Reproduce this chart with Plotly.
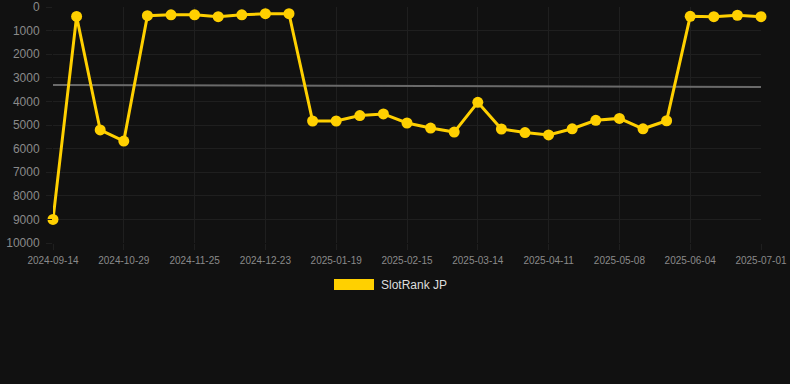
import plotly.graph_objects as go

dates = ["2024-09-14", "2024-09-29", "2024-10-14", "2024-10-29", "2024-11-07", "2024-11-16",
         "2024-11-25", "2024-12-04", "2024-12-14", "2024-12-23", "2025-01-01", "2025-01-10",
         "2025-01-19", "2025-01-28", "2025-02-06", "2025-02-15", "2025-02-24", "2025-03-05",
         "2025-03-14", "2025-03-23", "2025-04-02", "2025-04-11", "2025-04-20", "2025-04-29",
         "2025-05-08", "2025-05-17", "2025-05-26", "2025-06-04", "2025-06-13", "2025-06-22",
         "2025-07-01"]
rank_jp = [9000, 400, 5210, 5680, 370, 330, 330, 410, 330, 285, 285, 4830, 4830, 4600, 4530,
           4915, 5130, 5300, 4040, 5170, 5320, 5420, 5160, 4800, 4720, 5160, 4820, 395, 410,
           350, 410]
trend_start = 3305
trend_end = 3390
tick_labels = dates[::3]
y_ticks = [0, 1000, 2000, 3000, 4000, 5000, 6000, 7000, 8000, 9000, 10000]

BG = "#111111"
GOLD = "#FFD000"
GRID = "#1f1f1f"

fig = go.Figure()
fig.add_trace(go.Scatter(
    x=[dates[0], dates[-1]], y=[trend_start, trend_end], mode="lines",
    line=dict(color="#6a6a6a", width=2), showlegend=False, hoverinfo="skip",
    cliponaxis=False))
fig.add_trace(go.Scatter(
    x=dates, y=rank_jp, mode="lines+markers", name="SlotRank JP",
    line=dict(color=GOLD, width=3), marker=dict(color=GOLD, size=11),
    showlegend=False, cliponaxis=False))

fig.update_layout(
    width=790, height=384,
    paper_bgcolor=BG, plot_bgcolor=BG,
    margin=dict(l=53, r=29, t=7, b=141, autoexpand=False),
    font=dict(family="Arial, Liberation Sans, sans-serif", color="#888888"),
    xaxis=dict(type="category", categoryorder="array", categoryarray=dates,
               range=[0, len(dates) - 1], tickmode="array", tickvals=tick_labels,
               ticktext=tick_labels, tickfont=dict(size=10, color="#8a8a8a"),
               showgrid=True, gridcolor=GRID, gridwidth=1, zeroline=False,
               ticks="outside", ticklen=6, tickcolor=GRID, ticklabelstandoff=2,
               showline=False, tickangle=0, automargin=False),
    yaxis=dict(range=[10000, 0], tickvals=y_ticks, ticktext=[str(v) for v in y_ticks],
               tickfont=dict(size=12, color="#8a8a8a"), showgrid=True,
               gridcolor=GRID, gridwidth=1, zeroline=False,
               ticks="outside", ticklen=6, tickcolor=GRID, ticklabelstandoff=4,
               automargin=False),
)

# custom legend (box + label)
fig.add_shape(type="rect", xref="paper", yref="paper",
              x0=(334 - 53) / 708, x1=(374 - 53) / 708,
              y0=(243 - 290) / 236, y1=(243 - 279) / 236,
              fillcolor=GOLD, line=dict(width=0))
fig.add_annotation(text="SlotRank JP", xref="paper", yref="paper",
                   x=(379 - 53) / 708, y=(243 - 284.5) / 236,
                   xanchor="left", yanchor="middle", showarrow=False,
                   font=dict(size=12, color="#dddddd"))

fig.write_html("out.html", config={"displayModeBar": False},
               post_script="document.body.style.margin='0';")
